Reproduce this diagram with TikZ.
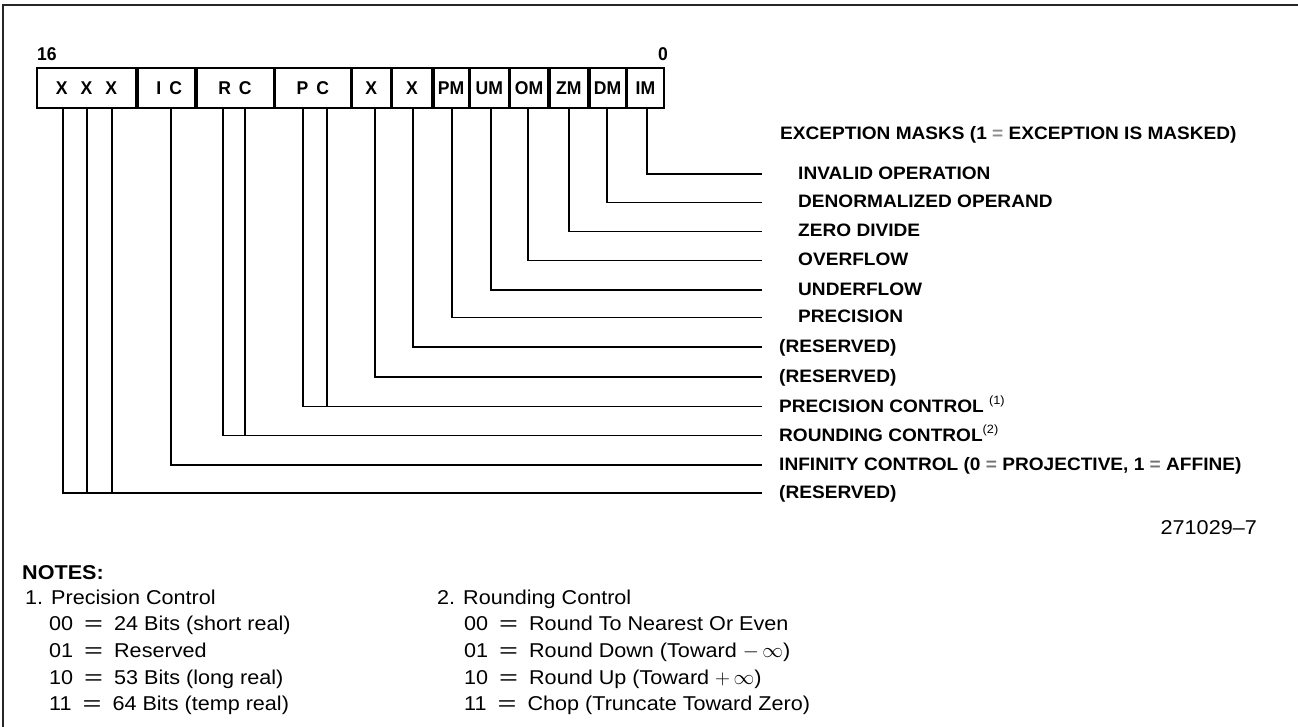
\documentclass[tikz,border=0pt]{standalone}
\usepackage{fontspec}
\setmainfont{Liberation Sans}
\newfontfamily\lblfam[FakeStretch=1.06]{Liberation Sans}
\newfontfamily\notefam[FakeStretch=1.08]{Liberation Sans}
\newfontfamily\cellfam[FakeStretch=0.95]{Liberation Sans}
\usepackage{graphicx}
\newcommand\lblfont{\lblfam\fontsize{18}{20}\selectfont\bfseries}
\newcommand\cellfont{\cellfam\fontsize{18.5}{20}\selectfont\bfseries}
\newcommand\notefont{\notefam\fontsize{20}{22}\selectfont}
\newcommand\eqsign{\hspace{11pt}\scalebox{1.5}[1]{=}\hspace{11pt}}
\newcommand\supnote[1]{{\fontsize{12}{12}\selectfont\mdseries\raisebox{7.5pt}{#1}}}
\tikzset{
  border/.style={line width=1.4pt, draw=black!85},
  cell/.style={draw, line width=2pt, minimum height=40pt, inner sep=0pt, font=\cellfont},
  bitno/.style={inner sep=0pt, font=\cellfont},
  conn/.style={line width=1.4pt},
  lbl/.style={anchor=base west, inner sep=0pt, font=\lblfont},
  note/.style={anchor=base west, inner sep=0pt, font=\notefont},
}
\begin{document}
\begin{tikzpicture}[x=1pt,y=-1pt]
\fill[white] (0,0) rectangle (1298,727);
\useasboundingbox (0,0) rectangle (1298,727);
% frame (top and left edges)
\coordinate (fa) at (3,727);
\coordinate (fb) at (3,5);
\coordinate (fc) at (1298,5);
\draw[border] (fa) -- (fb) -- (fc);

% bit numbers
\node[bitno, anchor=west] (b16) at (37,54) {16};
\node[bitno] (b0) at (663,54) {0};

% register cells
\node[cell, minimum width=99pt]   (cXXX) at (86.5,88)  {X\hspace{13pt}X\hspace{13pt}X};
\node[cell, minimum width=57.5pt] (cIC)  at (166.25,88) {\hspace{6pt}I\hspace{8pt}C};
\node[cell, minimum width=77pt]   (cRC)  at (235,88)   {R\hspace{8pt}C};
\node[cell, minimum width=75.5pt] (cPC)  at (312.75,88) {P\hspace{8pt}C};
\node[cell, minimum width=38.5pt] (cXa)  at (371.25,88) {X};
\node[cell, minimum width=40pt]   (cXb)  at (412,88)   {X};
\node[cell, minimum width=35pt]   (cPM)  at (451,88)   {PM};
\node[cell, minimum width=38.5pt] (cUM)  at (489.25,88) {UM};
\node[cell, minimum width=38pt]   (cOM)  at (529,88)   {OM};
\node[cell, minimum width=38.5pt] (cZM)  at (568.75,88) {ZM};
\node[cell, minimum width=36pt]   (cDM)  at (607.5,88) {DM};
\node[cell, minimum width=37pt]   (cIM)  at (645.5,88) {IM};

% tap points under the cells
\coordinate (tXXXa) at (63,109);
\coordinate (tXXXb) at (87,109);
\coordinate (tXXXc) at (112,109);
\coordinate (tIC) at (171,109);
\coordinate (tRCa) at (223,109);
\coordinate (tRCb) at (245,109);
\coordinate (tPCa) at (303,109);
\coordinate (tPCb) at (327,109);
\coordinate (tXa) at (375,109);
\coordinate (tXb) at (413,109);
\coordinate (tPM) at (452,109);
\coordinate (tUM) at (491,109);
\coordinate (tOM) at (528,109);
\coordinate (tZM) at (569,109);
\coordinate (tDM) at (607,109);
\coordinate (tIM) at (647,109);

% line ends
\coordinate (eIM) at (762,174);
\coordinate (eDM) at (762,202.5);
\coordinate (eZM) at (762,231.5);
\coordinate (eOM) at (762,260.5);
\coordinate (eUM) at (762,290);
\coordinate (ePM) at (762,317.5);
\coordinate (eXb) at (762,347);
\coordinate (eXa) at (762,377);
\coordinate (ePC) at (762,406.5);
\coordinate (eRC) at (762,435.5);
\coordinate (eIC) at (762,465);
\coordinate (eXXX) at (762,493);

% connectors
\draw[conn] (tIM) |- (eIM);
\draw[conn] (tDM) |- (eDM);
\draw[conn] (tZM) |- (eZM);
\draw[conn] (tOM) |- (eOM);
\draw[conn] (tUM) |- (eUM);
\draw[conn] (tPM) |- (ePM);
\draw[conn] (tXb) |- (eXb);
\draw[conn] (tXa) |- (eXa);
\draw[conn] (tPCa) |- (ePC);
\draw[conn] (tPCb) |- (ePC);
\draw[conn] (tRCa) |- (eRC);
\draw[conn] (tRCb) |- (eRC);
\draw[conn] (tIC) |- (eIC);
\draw[conn] (tXXXa) |- (eXXX);
\draw[conn] (tXXXb) |- (eXXX);
\draw[conn] (tXXXc) |- (eXXX);

% labels
\node[lbl] (lEM) at (780,139.5) {EXCEPTION MASKS (1 {\color{black!45}=} EXCEPTION IS MASKED)};
\node[lbl] (lIM) at (798,179.5) {INVALID OPERATION};
\node[lbl] (lDM) at (798,208) {DENORMALIZED OPERAND};
\node[lbl] (lZM) at (798,237) {ZERO DIVIDE};
\node[lbl] (lOM) at (798,266) {OVERFLOW};
\node[lbl] (lUM) at (798,295.5) {UNDERFLOW};
\node[lbl] (lPM) at (798,323) {PRECISION};
\node[lbl] (lXb) at (779,352.5) {(RESERVED)};
\node[lbl] (lXa) at (779,382.5) {(RESERVED)};
\node[lbl] (lPC) at (779,412) {PRECISION CONTROL \supnote{(1)}};
\node[lbl] (lRC) at (779,441) {ROUNDING CONTROL\supnote{(2)}};
\node[lbl] (lIC) at (779,470.5) {INFINITY CONTROL (0 {\color{black!55}=} PROJECTIVE, 1 {\color{black!55}=} AFFINE)};
\node[lbl] (lXXX) at (779,498.5) {(RESERVED)};

% figure number
\node[note, anchor=base east] (fig) at (1257,534) {271029–7};

% notes
\node[note, font=\notefont\bfseries] (nh) at (22,579) {NOTES:};
\node[note] (n1) at (25,604) {1. Precision Control};
\node[note] (n1a) at (49,630.5) {00\eqsign 24 Bits (short real)};
\node[note] (n1b) at (49,657) {01\eqsign Reserved};
\node[note] (n1c) at (49,684) {10\eqsign 53 Bits (long real)};
\node[note] (n1d) at (49,710.5) {11\eqsign 64 Bits (temp real)};
\node[note] (n2) at (437,604) {2. Rounding Control};
\node[note] (n2a) at (464,630.5) {00\eqsign Round To Nearest Or Even};
\node[note] (n2b) at (464,657) {01\eqsign Round Down (Toward $-\,\infty$)};
\node[note] (n2c) at (464,684) {10\eqsign Round Up (Toward $+\,\infty$)};
\node[note] (n2d) at (464,710.5) {11\eqsign Chop (Truncate Toward Zero)};
\end{tikzpicture}
\end{document}
